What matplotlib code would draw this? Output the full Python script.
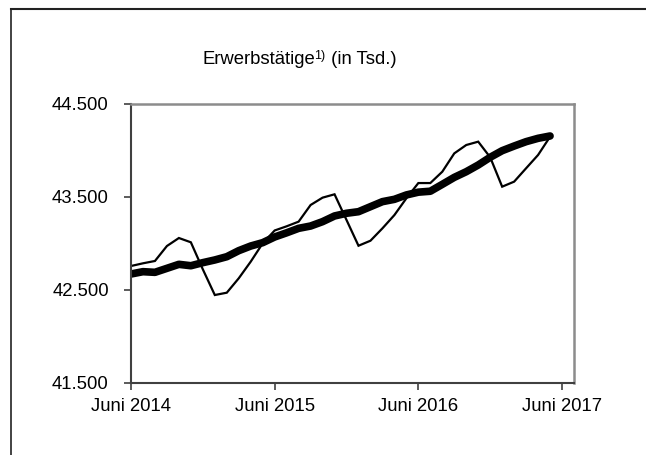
import numpy as np
import matplotlib.pyplot as plt
from matplotlib.lines import Line2D
from matplotlib.ticker import FuncFormatter

plt.rcParams['font.family'] = ['Liberation Sans', 'DejaVu Sans']

# Erwerbstätige in Tsd., monthly from Juni 2014 to Mai 2017
months = np.arange(36)
original = [42758, 42787, 42812, 42973, 43059, 43013, 42722, 42446, 42471, 42626,
            42805, 43002, 43140, 43185, 43235, 43414, 43493, 43529, 43253, 42976,
            43030, 43163, 43306, 43486, 43650, 43650, 43772, 43969, 44059, 44095,
            43927, 43611, 43665, 43809, 43952, 44148]
adjusted = [42672, 42697, 42690, 42733, 42776, 42761, 42794, 42823, 42858, 42923,
            42973, 43009, 43070, 43115, 43163, 43188, 43235, 43296, 43325, 43342,
            43396, 43450, 43475, 43522, 43552, 43562, 43636, 43711, 43772, 43844,
            43927, 43998, 44048, 44095, 44131, 44156]
xtick_pos = [0, 12, 24, 36]
xtick_labels = ['Juni 2014', 'Juni 2015', 'Juni 2016', 'Juni 2017']
ytick_vals = [41500, 42500, 43500, 44500]

fig = plt.figure(figsize=(6.46, 4.55), dpi=100)
ax = fig.add_axes([131 / 646, 1 - 383 / 455, 443 / 646, 279 / 455])

ax.plot(months, original, color='black', lw=1.6, solid_joinstyle='miter')
ax.plot(months, adjusted, color='black', lw=5.5, solid_capstyle='round',
        solid_joinstyle='round')

ax.set_xlim(0, 37)
ax.set_ylim(41500, 44500)
ax.set_xticks(xtick_pos)
ax.set_xticklabels(xtick_labels)
ax.set_yticks(ytick_vals)
ax.yaxis.set_major_formatter(FuncFormatter(lambda v, p: f'{v:,.0f}'.replace(',', '.')))
ax.tick_params(axis='both', direction='out', length=5, width=1.2, color='#404040',
               labelsize=13.3)
ax.tick_params(axis='x', pad=6)
ax.tick_params(axis='y', pad=11)

for s in ['left', 'bottom']:
    ax.spines[s].set_color('#404040')
    ax.spines[s].set_linewidth(1.5)
for s in ['top', 'right']:
    ax.spines[s].set_color('#8c8c8c')
    ax.spines[s].set_linewidth(1.8)

# outer frame (top and left edge)
fig.add_artist(Line2D([11 / 646, 11 / 646], [0, 1 - 8.5 / 455], color='#222222', lw=1.2))
fig.add_artist(Line2D([11 / 646, 1], [1 - 8.5 / 455, 1 - 8.5 / 455], color='#222222', lw=1.5))

# title with superscript
fig.canvas.draw()
r = fig.canvas.get_renderer()
ty = 1 - 64 / 455
t1 = fig.text(203 / 646, ty, 'Erwerbstätige', fontsize=13.3, va='baseline')
bb = t1.get_window_extent(r)
x2 = bb.x1 / fig.bbox.width
t2 = fig.text(x2 - 0.002, ty + 5 / 455, '1)', fontsize=9, va='baseline')
bb2 = t2.get_window_extent(r)
x3 = bb2.x1 / fig.bbox.width
fig.text(x3, ty, ' (in Tsd.)', fontsize=13.3, va='baseline')

fig.savefig('out.png', dpi=100)
